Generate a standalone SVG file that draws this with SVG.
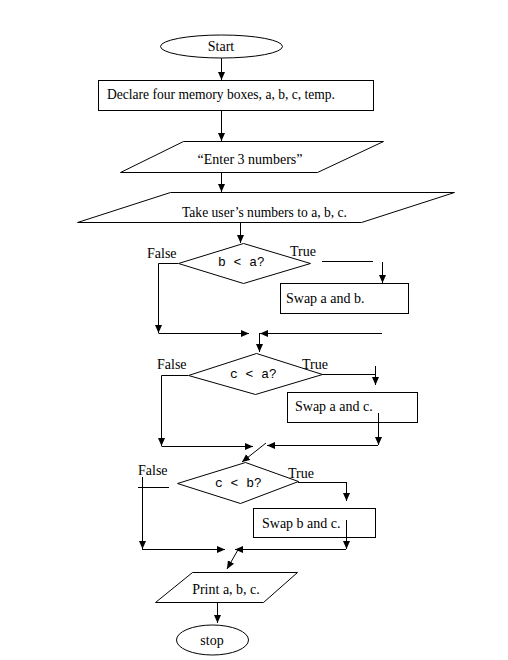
<svg xmlns="http://www.w3.org/2000/svg" width="508" height="660" viewBox="0 0 508 660">
<style>
.shape{fill:#fff;stroke:#000;stroke-width:1}
.t{font-family:"Liberation Serif","Times New Roman",serif;font-size:14px;fill:#000}
.m{font-family:"Liberation Mono","Courier New",monospace;font-size:13px;fill:#000}
.c{text-anchor:middle}
.ln{fill:none;stroke:#000;stroke-width:1}
</style>
<defs>
<marker id="ah" markerWidth="8" markerHeight="8" refX="8" refY="4" orient="auto" markerUnits="userSpaceOnUse">
<path d="M0,0.5 L8,4 L0,7.5 Z" fill="#000"/>
</marker>
</defs>
<rect width="508" height="660" fill="#fff"/>
<g id="start"><ellipse class="shape" cx="221.5" cy="46.5" rx="61" ry="11.5"/><text class="t c" x="221" y="51">Start</text></g>
<g id="declare"><rect class="shape" x="98.5" y="80.5" width="275" height="30"/><text class="t" x="107" y="99" textLength="228" lengthAdjust="spacingAndGlyphs">Declare four memory boxes, a, b, c, temp.</text></g>
<g id="enter"><polygon class="shape" points="183.5,141.5 383.5,141.5 317.5,172.5 120.5,172.5"/><text class="t c" x="250" y="164">“Enter 3 numbers”</text></g>
<g id="take"><polygon class="shape" points="170.5,192.5 454.5,192.5 361.5,222.5 77.5,222.5"/><text class="t" x="182" y="217" textLength="165" lengthAdjust="spacingAndGlyphs">Take user’s numbers to a, b, c.</text></g>
<g id="d1"><polygon class="shape" points="178.5,263.5 243.5,243.5 310.5,263.5 243.5,283.5"/><text class="m" x="218" y="266">b &lt; a?</text></g>
<g id="swapab"><rect class="shape" x="280.5" y="283.5" width="128" height="30"/><text class="t" x="286" y="303">Swap a and b.</text></g>
<g id="d2"><polygon class="shape" points="188.5,375.5 256.5,353.5 322.5,374.5 255.5,394.5"/><text class="m" x="230" y="378">c &lt; a?</text></g>
<g id="swapac"><rect class="shape" x="287.5" y="392.5" width="130" height="30"/><text class="t" x="295" y="411">Swap a and c.</text></g>
<g id="d3"><polygon class="shape" points="177.5,483.5 245.5,462.5 298.5,481.5 240.5,503.5"/><text class="m" x="215" y="487">c &lt; b?</text></g>
<g id="swapbc"><rect class="shape" x="253.5" y="508.5" width="122" height="29"/><text class="t" x="262" y="528">Swap b and c.</text></g>
<g id="print"><polygon class="shape" points="192.5,572.5 297.5,572.5 263.5,602.5 155.5,602.5"/><text class="t c" x="226" y="594">Print a, b, c.</text></g>
<g id="stop"><ellipse class="shape" cx="212.5" cy="640" rx="36" ry="15"/><text class="t c" x="212" y="645">stop</text></g>
<g id="labels">
<text class="t" x="147" y="258">False</text><text class="t" x="290" y="256">True</text>
<text class="t" x="157" y="369">False</text><text class="t" x="302" y="369">True</text>
<text class="t" x="138" y="475">False</text><text class="t" x="288" y="478">True</text>
</g>
<g id="connectors">
<path class="ln" d="M221.5,58 V80" marker-end="url(#ah)"/>
<path class="ln" d="M221.5,111 V141" marker-end="url(#ah)"/>
<path class="ln" d="M221.5,173 V192" marker-end="url(#ah)"/>
<path class="ln" d="M240.5,223 V243" marker-end="url(#ah)"/>
<path class="ln" d="M178,263.5 H158.5 V333" marker-end="url(#ah)"/>
<path class="ln" d="M158.5,333.5 H249" marker-end="url(#ah)"/>
<path class="ln" d="M322,261.5 H373"/>
<path class="ln" d="M382.5,262 V283" marker-end="url(#ah)"/>
<path class="ln" d="M382,333.5 H260" marker-end="url(#ah)"/>
<path class="ln" d="M259.5,333 V352" marker-end="url(#ah)"/>
<path class="ln" d="M188,375.5 H161.5 V446" marker-end="url(#ah)"/>
<path class="ln" d="M161.5,446.5 H253" marker-end="url(#ah)"/>
<path class="ln" d="M322,374.5 H375"/>
<path class="ln" d="M375.5,366 V385" marker-end="url(#ah)"/>
<path class="ln" d="M378.5,413 V445" marker-end="url(#ah)"/>
<path class="ln" d="M378,445.5 H267" marker-end="url(#ah)"/>
<path class="ln" d="M266,443 L242,462" marker-end="url(#ah)"/>
<path class="ln" d="M138,487.5 H169"/>
<path class="ln" d="M142.5,477 V549" marker-end="url(#ah)"/>
<path class="ln" d="M142,549.5 H225" marker-end="url(#ah)"/>
<path class="ln" d="M298,482.5 H347"/>
<path class="ln" d="M346.5,482 V501" marker-end="url(#ah)"/>
<path class="ln" d="M346.5,520 V549" marker-end="url(#ah)"/>
<path class="ln" d="M346,549.5 H235" marker-end="url(#ah)"/>
<path class="ln" d="M239,548 L227,569" marker-end="url(#ah)"/>
<path class="ln" d="M217.5,603 V623" marker-end="url(#ah)"/>
</g>
</svg>
